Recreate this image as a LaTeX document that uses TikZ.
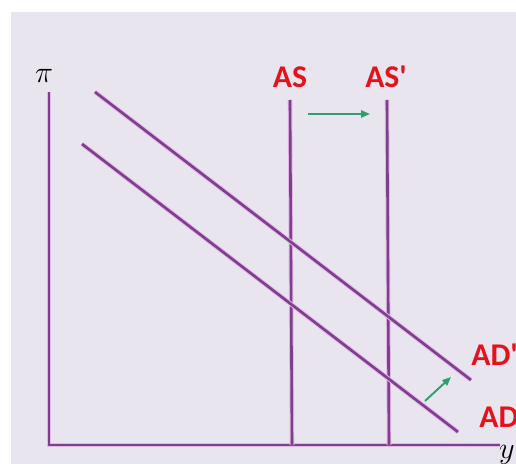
\documentclass[tikz,border=0pt]{standalone}
\usepackage{fontspec}
\newfontfamily\labelfont{Carlito}
\usetikzlibrary{arrows.meta}
\definecolor{slidebg}{HTML}{E8E5EE}
\definecolor{curvepurple}{HTML}{7D3F8E}
\definecolor{curvehalo}{HTML}{E3B6E8}
\definecolor{labelred}{HTML}{E5121B}
\definecolor{shiftgreen}{HTML}{2EA06C}

\begin{document}
\begin{tikzpicture}[
  x=0.2mm, y=-0.2mm,
  curve/.style={
    draw=curvepurple,
    line width=1.5pt,
    preaction={draw=curvehalo, line width=2.6pt}
  },
  curvelabel/.style={
    font=\labelfont\bfseries\fontsize{18}{20}\selectfont,
    text=labelred,
    inner sep=0pt
  },
  axislabel/.style={
    font=\fontsize{17}{20}\selectfont,
    inner sep=0pt
  },
  shiftarrow/.style={
    draw=shiftgreen,
    line width=1.1pt,
    -{Triangle[length=5pt,width=4pt]}
  }
]
\useasboundingbox (0,0) rectangle (516,464);
\fill[slidebg] (11,12) rectangle (516,464);

% axes
\coordinate (origin) at (49,445);
\coordinate (pitop) at (49,92);
\coordinate (yend) at (500,445);
\draw[curve] (pitop) -- (origin) -- (yend);
\node[axislabel] (pi) at (44,76) {$\pi$};
\node[axislabel,anchor=east] (ylab) at (515,455) {$y$};

% supply
\coordinate (astop) at (290,100);
\coordinate (asbot) at (292,445);
\coordinate (asptop) at (387,100);
\coordinate (aspbot) at (389,445);
\draw[curve] (astop) -- (asbot);
\draw[curve] (asptop) -- (aspbot);
\node[curvelabel] (as) at (290,77) {AS};
\node[curvelabel] (asp) at (386,77) {AS'};

% demand
\coordinate (adtop) at (82,144);
\coordinate (adbot) at (458,432);
\coordinate (adptop) at (95,92);
\coordinate (adpbot) at (471,380);
\draw[curve] (adtop) -- (adbot);
\draw[curve] (adptop) -- (adpbot);
\node[curvelabel,anchor=west] (adp) at (471,355) {AD'};
\node[curvelabel,anchor=west] (ad) at (479,417) {AD};

% shifts
\coordinate (asfrom) at (308,114);
\coordinate (asto) at (370,114);
\draw[shiftarrow] (asfrom) -- (asto);
\coordinate (adfrom) at (425,401);
\coordinate (adto) at (451,377);
\draw[shiftarrow] (adfrom) -- (adto);

\end{tikzpicture}
\end{document}
